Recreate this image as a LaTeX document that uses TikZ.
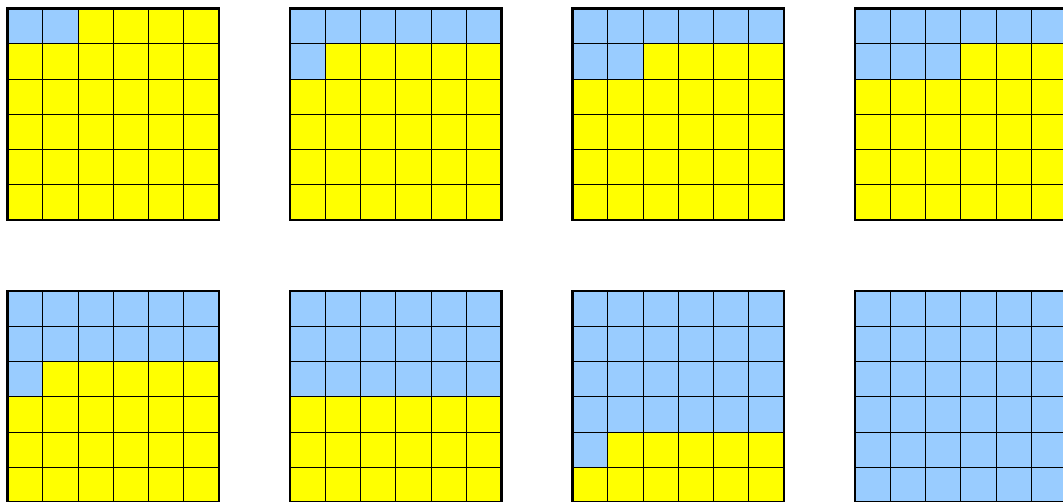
\documentclass[tikz,border=0pt]{standalone}
\definecolor{cblue}{RGB}{153,204,255}
\definecolor{cyel}{RGB}{255,255,0}
\begin{document}
\begin{tikzpicture}[x=1pt,y=-1pt,
  cell/.style={draw=black,line width=0.9pt},
  frame/.style={draw=black,line width=2.8pt}]
\useasboundingbox (0,0) rectangle (1063,502);
\clip (0,0) rectangle (1063,502);
\foreach \g/\n in {0/2,1/7,2/8,3/9,4/13,5/18,6/25,7/36} {
  \pgfmathsetmacro\gx{7.5+282.5*mod(\g,4)}
  \pgfmathsetmacro\gy{8.5+282.5*floor(\g/4)}
  \foreach \k in {0,...,35} {
    \pgfmathtruncatemacro\r{floor(\k/6)}
    \pgfmathtruncatemacro\c{mod(\k,6)}
    \ifnum\k<\n\relax\def\fc{cblue}\else\def\fc{cyel}\fi
    \filldraw[cell,fill=\fc] ({\gx+\c*35.25},{\gy+\r*35.25}) rectangle ++(35.25,35.25);
  }
  \draw[frame] (\gx,\gy) rectangle ++(211.5,211.5);
}
\end{tikzpicture}
\end{document}
